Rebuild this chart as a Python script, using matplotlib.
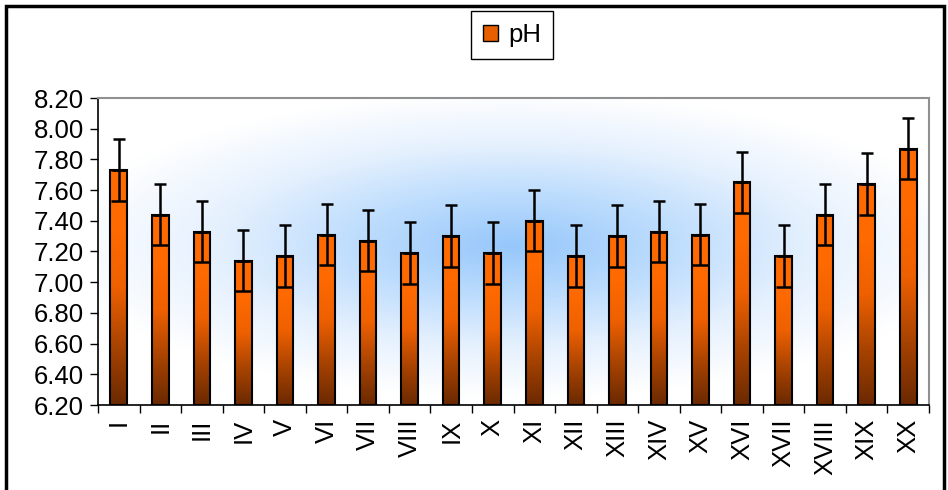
import numpy as np
import matplotlib.pyplot as plt
from matplotlib.patches import Rectangle, Patch
from matplotlib.colors import LinearSegmentedColormap

plt.rcParams['font.family'] = ['Liberation Sans', 'DejaVu Sans']

# sample labels, mean pH and error
samples = ['I', 'II', 'III', 'IV', 'V', 'VI', 'VII', 'VIII', 'IX', 'X',
           'XI', 'XII', 'XIII', 'XIV', 'XV', 'XVI', 'XVII', 'XVIII', 'XIX', 'XX']
ph = [7.73, 7.44, 7.33, 7.14, 7.17, 7.31, 7.27, 7.19, 7.30, 7.19,
      7.40, 7.17, 7.30, 7.33, 7.31, 7.65, 7.17, 7.44, 7.64, 7.87]
ph_err = [0.2] * len(ph)
y_ticks = [6.2, 6.4, 6.6, 6.8, 7.0, 7.2, 7.4, 7.6, 7.8, 8.0, 8.2]

fig = plt.figure(figsize=(9.48, 4.90), dpi=100)
ax = fig.add_axes([98 / 948, 1 - 405 / 490, (929 - 98) / 948, (405 - 98) / 490])

# blue radial background of the plot area
gx, gy = np.meshgrid(np.linspace(0, 1, 300), np.linspace(0, 1, 200))
dist = np.sqrt(((gx - 0.5) / 0.55) ** 2 + ((gy - 0.52) / 0.5) ** 2)
bg_cmap = LinearSegmentedColormap.from_list('bg', ['#96c7fb', '#bcdcfd', '#e6f1fe', '#ffffff'])
ax.imshow(np.clip(dist, 0, 1), cmap=bg_cmap, vmin=0, vmax=1, extent=[0, 1, 0, 1],
          transform=ax.transAxes, aspect='auto', zorder=0, origin='lower')

x = np.arange(len(samples))
bottom = y_ticks[0]
bars = ax.bar(x, np.array(ph) - bottom, bottom=bottom, width=0.4,
              color='none', edgecolor='black', linewidth=1.5, zorder=3)

# orange-to-brown gradient inside every bar
bar_cmap = LinearSegmentedColormap.from_list('bar', ['#6b2900', '#a84300', '#ee6000', '#ff6a00', '#ff6a00'])
grad = np.linspace(0, 1, 256).reshape(-1, 1)
for b in bars:
    bx, by = b.get_x(), b.get_y()
    im = ax.imshow(grad, cmap=bar_cmap, extent=[bx, bx + b.get_width(), by, by + b.get_height()],
                   aspect='auto', origin='lower', zorder=2)
    im.set_clip_path(b)

# error bars: capped whisker above, full-width line below
ax.errorbar(x, ph, yerr=[[0] * len(ph), ph_err], fmt='none', ecolor='black',
            elinewidth=1.8, capsize=4, capthick=1.8, zorder=4)
ax.errorbar(x, ph, yerr=[ph_err, [0] * len(ph)], fmt='none', ecolor='black',
            elinewidth=1.8, capsize=5.8, capthick=1.8, zorder=4)

ax.set_xlim(-0.5, len(samples) - 0.5)
ax.set_ylim(6.2, 8.2)
ax.set_yticks(y_ticks)
ax.set_yticklabels([f'{v:.2f}' for v in y_ticks], fontsize=18.5)
ax.set_xticks(x)
ax.set_xticklabels(samples, rotation=90, fontsize=18.5)
ax.set_xticks(np.arange(-0.5, len(samples)), minor=True)
ax.tick_params(axis='x', which='major', length=0, pad=10)
ax.tick_params(axis='x', which='minor', length=6, width=1, direction='out')
ax.tick_params(axis='y', length=6, width=1, direction='out', pad=4)

for side in ['top', 'right']:
    ax.spines[side].set_color('#909090')
    ax.spines[side].set_linewidth(1.5)
for side in ['left', 'bottom']:
    ax.spines[side].set_color('black')
    ax.spines[side].set_linewidth(1.2)

fig.legend(handles=[Patch(facecolor='#e85f00', edgecolor='black', label='pH')],
           loc='center', bbox_to_anchor=(512 / 948, 1 - 35 / 490), fontsize=18.5,
           fancybox=False, framealpha=1, edgecolor='black', handlelength=0.6,
           handleheight=0.6, handletextpad=0.4, borderpad=0.45)

# outer chart frame
fig.patches.append(Rectangle((6 / 948, -0.05), (944 - 6) / 948, 1 - 6 / 490 + 0.05,
                             transform=fig.transFigure, fill=False, edgecolor='black', linewidth=2.5))

plt.savefig('out.png', dpi=100)
